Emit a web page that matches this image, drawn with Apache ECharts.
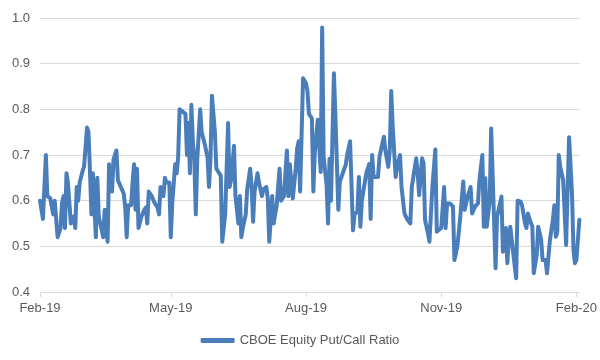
<!DOCTYPE html>
<html>
<head>
<meta charset="utf-8">
<script src="https://cdn.jsdelivr.net/npm/echarts@6/dist/echarts.min.js"></script>
<style>html,body{margin:0;padding:0;background:#fff}#c{width:600px;height:360px}</style>
</head>
<body>
<div id="c"></div>
<script>
// Start of the series (first trading day) and end of the axis
var startDate = [2019, 1, 1];   // 1 Feb 2019
var endOffset = 367;            // days after start where axis ends (3 Feb 2020)

// Days after start date for each observation
var dayOffsets = [
  0,2,4,5,7,9,10,11,12,14,15,16,17,18,19,21,23,24,25,26,27,29,30,32,33,34,35,36,38,39,40,42,43,44,45,46,47,48,49,50,52,53,55,57,58,59,60,62,63,64,65,66,67,69,
  71,72,73,74,76,78,80,81,82,83,84,85,86,88,89,90,92,93,94,95,97,99,100,101,102,103,104,105,106,107,109,110,112,114,115,116,117,119,120,121,123,124,125,126,128,129,130,131,132,133,135,136,137,138,140,141,143,144,
  145,146,148,149,151,152,154,155,156,158,159,160,161,163,164,166,168,169,170,171,172,174,175,176,177,179,181,182,183,185,186,187,189,190,191,192,193,195,196,197,198,200,201,203,204,206,208,209,211,213,214,216,
  217,218,219,222,223,224,225,226,227,230,231,232,234,235,237,238,239,240,242,243,245,246,248,250,252,253,256,257,258,260,261,262,264,265,267,269,270,271,273,275,276,277,279,281,282,284,286,288,289,
  291,293,294,296,298,299,301,302,303,304,306,307,310,311,313,314,315,317,318,319,320,322,324,325,327,328,330,331,332,333,335,336,338,339,341,342,344,345,346,347,349,350,351,352,353,354,356,358,360,362,363,364,365,367
];

// CBOE Equity Put/Call Ratio values
var putCallRatio = [
  0.60,0.56,0.70,0.61,0.605,0.57,0.60,0.60,0.52,0.54,0.595,0.61,0.54,0.66,0.64,0.55,0.565,0.54,0.63,0.60,0.64,0.665,0.675,0.76,0.75,0.665,0.57,0.66,0.52,0.65,0.565,0.535,0.52,0.58,0.58,0.51,0.68,0.65,0.62,0.69,0.71,0.645,0.63,0.615,0.585,0.52,0.59,0.59,0.64,0.68,0.58,0.67,0.54,0.565,
  0.58,0.585,0.55,0.62,0.61,0.595,0.585,0.57,0.63,0.62,0.61,0.65,0.64,0.64,0.52,0.595,0.68,0.66,0.695,0.80,0.795,0.79,0.70,0.77,0.66,0.81,0.73,0.69,0.57,0.69,0.80,0.75,0.725,0.695,0.63,0.69,0.83,0.75,0.67,0.665,0.655,0.51,0.54,0.57,0.77,0.63,0.645,0.68,0.72,0.61,0.55,0.61,0.52,0.54,0.57,0.625,0.67,0.63,
  0.554,0.62,0.66,0.64,0.61,0.625,0.63,0.605,0.51,0.61,0.55,0.57,0.587,0.67,0.60,0.61,0.71,0.61,0.68,0.68,0.605,0.67,0.715,0.73,0.62,0.868,0.857,0.84,0.79,0.78,0.62,0.707,0.777,0.78,0.663,0.979,0.696,0.634,0.55,0.692,0.60,0.879,0.787,0.58,0.641,0.66,0.678,0.70,0.73,0.535,0.57,0.576,
  0.652,0.543,0.60,0.66,0.663,0.68,0.56,0.70,0.652,0.652,0.696,0.70,0.74,0.71,0.674,0.71,0.84,0.762,0.652,0.674,0.70,0.63,0.572,0.558,0.55,0.63,0.693,0.66,0.612,0.693,0.682,0.558,0.528,0.51,0.63,0.712,0.532,0.536,0.54,0.63,0.54,0.594,0.594,0.587,0.47,0.50,0.565,0.642,0.58,
  0.609,0.63,0.572,0.587,0.594,0.645,0.70,0.543,0.649,0.543,0.60,0.758,0.452,0.565,0.594,0.609,0.488,0.54,0.463,0.514,0.543,0.485,0.43,0.60,0.598,0.59,0.55,0.54,0.572,0.561,0.543,0.441,0.481,0.543,0.514,0.47,0.47,0.441,0.478,0.514,0.558,0.59,0.521,0.532,0.70,0.674,0.645,0.503,0.739,0.616,0.492,0.463,0.47,0.558
];

// X tick positions (year, month index) and labels
var tickMonths = [[2019,1],[2019,4],[2019,7],[2019,10],[2020,1]];
var tickLabels = ['Feb-19','May-19','Aug-19','Nov-19','Feb-20'];

// Y axis
var yMin = 0.4, yMax = 1.0, yStep = 0.1;

var seriesName = 'CBOE Equity Put/Call Ratio';

var DAY = 86400000;
var base = Date.UTC(startDate[0], startDate[1], startDate[2]);
function dayOf(y, m, d){ return (Date.UTC(y, m, d) - base) / DAY; }
var points = dayOffsets.map(function(d, i){ return [d, putCallRatio[i]]; });
var tickDays = tickMonths.map(function(m){ return dayOf(m[0], m[1], 1); });
var labelMap = {};
tickDays.forEach(function(t, i){ labelMap[t] = tickLabels[i]; });

var font = '"Liberation Sans", Arial, sans-serif';
var chart = echarts.init(document.getElementById('c'), null, {renderer: 'canvas'});
chart.setOption({
  animation: false,
  backgroundColor: '#ffffff',
  grid: {left: 40, right: 19, top: 18, bottom: 68, containLabel: false},
  xAxis: {
    type: 'value',
    min: 0,
    max: endOffset,
    axisLine: {show: true, lineStyle: {color: '#d9d9d9', width: 1}},
    axisTick: {show: true, length: 5, lineStyle: {color: '#d9d9d9'}, customValues: tickDays},
    splitLine: {show: false},
    axisLabel: {
      customValues: tickDays,
      color: '#595959', fontSize: 13, fontFamily: font, margin: 10,
      formatter: function(v){ return labelMap[v] || ''; }
    }
  },
  yAxis: {
    type: 'value',
    min: yMin, max: yMax, interval: yStep,
    axisLine: {show: false},
    axisTick: {show: false},
    splitLine: {show: true, lineStyle: {color: '#d9d9d9', width: 1}},
    axisLabel: {
      color: '#595959', fontSize: 13, fontFamily: font, margin: 10,
      formatter: function(v){ return v.toFixed(1); }
    }
  },
  legend: {
    show: true,
    left: 'center',
    top: 329,
    icon: 'roundRect',
    itemWidth: 34,
    itemHeight: 5,
    textStyle: {color: '#595959', fontSize: 13, fontFamily: font},
    data: [seriesName]
  },
  series: [{
    name: seriesName,
    type: 'line',
    data: points,
    showSymbol: false,
    symbol: 'none',
    color: '#4a7ebb',
    lineStyle: {color: '#4a7ebb', width: 4, cap: 'round', join: 'round'}
  }]
});
</script>
</body>
</html>
